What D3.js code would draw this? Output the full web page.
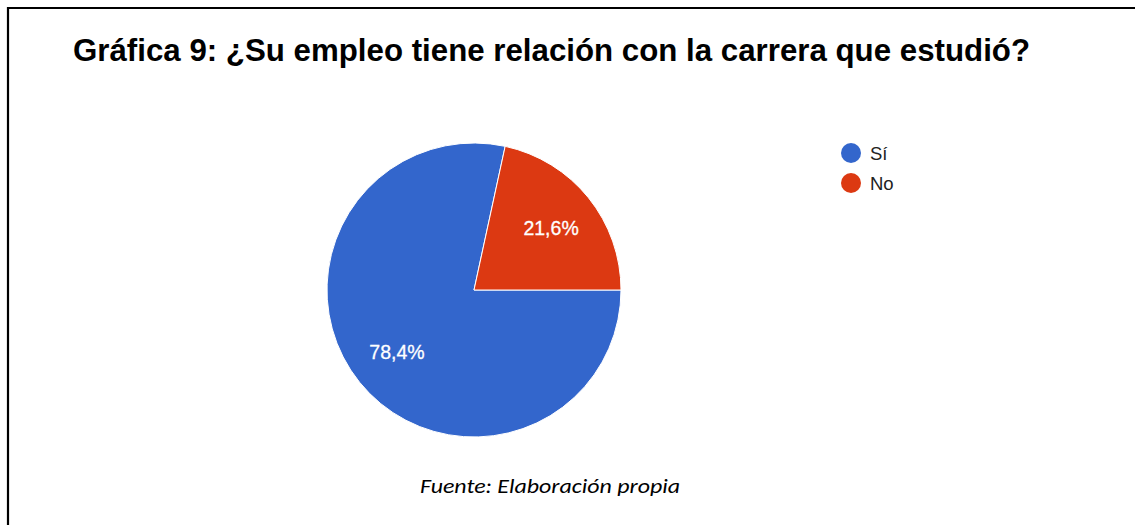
<!DOCTYPE html>
<html>
<head>
<meta charset="utf-8">
<script src="https://cdn.jsdelivr.net/npm/d3@7"></script>
<style>
  body { margin: 0; background: #fff; }
  svg { display: block; }
</style>
</head>
<body>
<svg id="chart"></svg>
<script>
// data
const categories = ["Sí", "No"];
const values = [78.4, 21.6];
const colors = ["#3366cc", "#dc3912"];
const labels = ["78,4%", "21,6%"];

const title = "Gráfica 9: ¿Su empleo tiene relación con la carrera que estudió?";
const source = "Fuente: Elaboración propia";

let width = 1135, height = 525;
let svg = d3.select("#chart").attr("width", width).attr("height", height);

// frame (only top and left lines are visible)
svg.append("path")
  .attr("d", "M8,525 L8,8 L1135,8")
  .attr("fill", "none")
  .attr("stroke", "#000")
  .attr("stroke-width", 2.2);

svg.append("text")
  .attr("x", 73)
  .attr("y", 61)
  .attr("font-family", "Liberation Sans, Arial, sans-serif")
  .attr("font-weight", "bold")
  .attr("font-size", 30.5)
  .attr("textLength", 957)
  .attr("lengthAdjust", "spacingAndGlyphs")
  .attr("fill", "#000")
  .text(title);

// pie
let cx = 474, cy = 290, radius = 147;
let data = categories.map((c, i) => ({name: c, value: values[i], color: colors[i], label: labels[i]}));

// first slice starts at 3 o'clock and runs clockwise
let pie = d3.pie()
  .sort(null)
  .value(d => d.value)
  .startAngle(Math.PI / 2)
  .endAngle(Math.PI / 2 + 2 * Math.PI);

let arc = d3.arc().innerRadius(0).outerRadius(radius);
let labelArc = d3.arc().innerRadius(99).outerRadius(99);

let g = svg.append("g").attr("transform", "translate(" + cx + "," + cy + ")");

g.selectAll("path")
  .data(pie(data))
  .enter()
  .append("path")
  .attr("d", arc)
  .attr("fill", d => d.data.color)
  .attr("stroke", "#fff")
  .attr("stroke-width", 1);

g.selectAll("text")
  .data(pie(data))
  .enter()
  .append("text")
  .attr("transform", d => "translate(" + labelArc.centroid(d) + ")")
  .attr("text-anchor", "middle")
  .attr("dy", "0.36em")
  .attr("font-family", "Liberation Sans, Arial, sans-serif")
  .attr("font-size", 19.5)
  .attr("fill", "#fff")
  .attr("stroke", "#fff")
  .attr("stroke-width", 0.3)
  .text(d => d.data.label);

// legend
let legend = svg.append("g").attr("transform", "translate(851,153)");
let items = legend.selectAll("g")
  .data(data)
  .enter()
  .append("g")
  .attr("transform", (d, i) => "translate(0," + i * 30 + ")");

items.append("circle")
  .attr("r", 10)
  .attr("fill", d => d.color);

items.append("text")
  .attr("x", 19)
  .attr("dy", "0.36em")
  .attr("font-family", "Liberation Sans, Arial, sans-serif")
  .attr("font-size", 18.5)
  .attr("fill", "#222")
  .text(d => d.name);

// source note
svg.append("text")
  .attr("x", 550)
  .attr("y", 493)
  .attr("text-anchor", "middle")
  .attr("font-family", "Carlito, Calibri, Lato, sans-serif")
  .attr("font-style", "italic")
  .attr("font-size", 21)
  .attr("textLength", 260)
  .attr("lengthAdjust", "spacingAndGlyphs")
  .attr("fill", "#000")
  .text(source);
</script>
</body>
</html>
